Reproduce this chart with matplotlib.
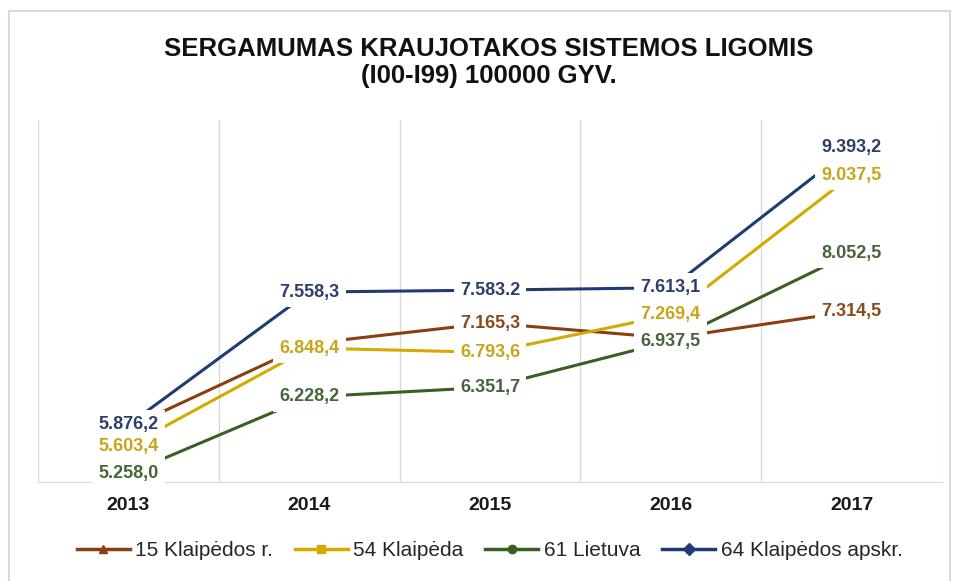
import matplotlib.pyplot as plt
from matplotlib.patches import Rectangle
from matplotlib.lines import Line2D

plt.rcParams['font.family'] = ['Liberation Sans', 'DejaVu Sans']

years = ['2013', '2014', '2015', '2016', '2017']

# incidence per 100000 inhabitants
klaipedos_r = [5840.0, 6905.0, 7165.3, 6975.0, 7314.5]
klaipeda = [5603.4, 6848.4, 6793.6, 7269.4, 9037.5]
lietuva = [5258.0, 6228.2, 6351.7, 6937.5, 8052.5]
apskritis = [5876.2, 7558.3, 7583.2, 7613.1, 9393.2]

# value labels shown on the chart (None = no label)
klaipedos_r_lbl = [None, None, '7.165,3', None, '7.314,5']
klaipeda_lbl = ['5.603,4', '6.848,4', '6.793,6', '7.269,4', '9.037,5']
lietuva_lbl = ['5.258,0', '6.228,2', '6.351,7', '6.937,5', '8.052,5']
apskritis_lbl = ['5.876,2', '7.558,3', '7.583.2', '7.613,1', '9.393,2']

series = [
    ('15 Klaipėdos r.', klaipedos_r, klaipedos_r_lbl, '#8B3E0F', '#8B4A1C', '^'),
    ('54 Klaipėda', klaipeda, klaipeda_lbl, '#D4AA00', '#C9A418', 's'),
    ('61 Lietuva', lietuva, lietuva_lbl, '#3A5F23', '#46653A', 'o'),
    ('64 Klaipėdos apskr.', apskritis, apskritis_lbl, '#1F3B73', '#2D3E6B', 'D'),
]

fig = plt.figure(figsize=(9.6, 5.81), dpi=100)
ax = fig.add_axes([38 / 960, 1 - 482 / 581, 904 / 960, 362 / 581])

x = list(range(len(years)))
for name, vals, lbls, col, lcol, mk in series:
    ax.plot(x, vals, color=col, lw=2.2, marker=mk, ms=5, zorder=2)

# white boxes first (they hide the line ends), then the label text on top
for name, vals, lbls, col, lcol, mk in series:
    for xi, v, t in zip(x, vals, lbls):
        if t is None:
            continue
        ax.text(xi, v, t, ha='center', va='center', fontsize=13,
                fontweight='bold', color='none', zorder=4,
                bbox=dict(boxstyle='square,pad=0.35', fc='white', ec='none'))
        ax.text(xi, v, t, ha='center', va='center', fontsize=13,
                fontweight='bold', color=lcol, zorder=5)

ax.set_xlim(-0.5, 4.5)
ax.set_ylim(5150, 9740)
ax.set_yticks([])
ax.set_xticks(x)
ax.set_xticklabels(years, fontsize=14, fontweight='bold', color='#1a1a1a')
ax.tick_params(axis='x', length=0, pad=11)
for b in [-0.5, 0.5, 1.5, 2.5, 3.5, 4.5]:
    ax.axvline(b, color='#D9D9D9', lw=1, zorder=0)
for s in ['top', 'left', 'right']:
    ax.spines[s].set_visible(False)
ax.spines['bottom'].set_color('#D9D9D9')

fig.text(0.509, 0.893, 'SERGAMUMAS KRAUJOTAKOS SISTEMOS LIGOMIS\n(I00-I99) 100000 GYV.',
         ha='center', va='center', fontsize=18.5, fontweight='bold',
         linespacing=1.15, color='#111111')

handles = [Line2D([], [], color=c, lw=2.5, marker=m, ms=6) for _, _, _, c, _, m in series]
fig.legend(handles, [s[0] for s in series], loc='center', bbox_to_anchor=(0.51, 0.052),
           ncol=4, frameon=False, fontsize=15, handlelength=2.55, handletextpad=0.25,
           columnspacing=1.05, labelcolor='#262626')

fig.patches.append(Rectangle((9 / 960, -0.02), 941 / 960, 1.02 - 11 / 581,
                             transform=fig.transFigure, fill=False,
                             ec='#D9D9D9', lw=1.5))

fig.savefig('out.png', dpi=100, facecolor='white')
